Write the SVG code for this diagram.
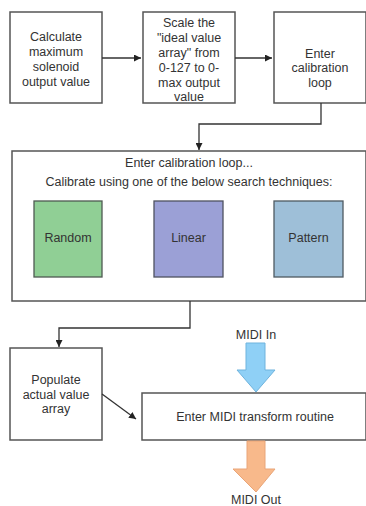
<svg xmlns="http://www.w3.org/2000/svg" width="366" height="506" viewBox="0 0 366 506">
<defs>
<marker id="ah" viewBox="0 0 10 10" refX="10" refY="5" markerWidth="7" markerHeight="7" markerUnits="userSpaceOnUse" orient="auto">
<path d="M0,0 L10,5 L0,10 z" fill="#222"/>
</marker>
<style>
.box{fill:#fff;stroke:#555;stroke-width:1.5}
.t{font-family:"Liberation Sans",Arial,sans-serif;font-size:12.5px;fill:#333;text-anchor:middle}
.c{fill:none;stroke:#333;stroke-width:1.3}
</style>
</defs>
<rect width="366" height="506" fill="#fff"/>
<g id="n1"><rect class="box" x="10" y="12" width="92" height="91"/>
<text class="t" x="56" y="40.5">Calculate</text><text class="t" x="56" y="55.5">maximum</text><text class="t" x="56" y="70.5">solenoid</text><text class="t" x="56" y="85.5">output value</text></g>
<g id="n2"><rect class="box" x="143" y="12" width="92" height="91"/>
<text class="t" x="189" y="26.5">Scale the</text><text class="t" x="189" y="41.5">"ideal value</text><text class="t" x="189" y="56.5">array" from</text><text class="t" x="189" y="71.5">0-127 to 0-</text><text class="t" x="189" y="86.5">max output</text><text class="t" x="189" y="101">value</text></g>
<g id="n3"><rect class="box" x="274" y="12" width="92" height="91"/>
<text class="t" x="320" y="57.5">Enter</text><text class="t" x="320" y="72">calibration</text><text class="t" x="320" y="86.5">loop</text></g>
<g id="n4"><rect class="box" x="12" y="151" width="354" height="150"/>
<text class="t" x="189" y="167">Enter calibration loop...</text><text class="t" x="189" y="186">Calibrate using one of the below search techniques:</text></g>
<g id="n5"><rect x="34" y="201" width="68" height="76" fill="#90cf95" stroke="#4f5a52" stroke-width="1.3"/><text class="t" x="68" y="242">Random</text></g>
<g id="n6"><rect x="154" y="201" width="69" height="76" fill="#9ba0d6" stroke="#4f5260" stroke-width="1.3"/><text class="t" x="188.5" y="242">Linear</text></g>
<g id="n7"><rect x="274" y="201" width="69" height="76" fill="#9ebfd8" stroke="#4f5a62" stroke-width="1.3"/><text class="t" x="308.5" y="242">Pattern</text></g>
<g id="n8"><rect class="box" x="10" y="348" width="92" height="92"/>
<text class="t" x="56" y="384">Populate</text><text class="t" x="56" y="398.5">actual value</text><text class="t" x="56" y="413">array</text></g>
<g id="n9"><rect class="box" x="142" y="393" width="224" height="47"/>
<text class="t" x="255" y="421">Enter MIDI transform routine</text></g>
<g id="midiIn"><text class="t" x="256" y="339">MIDI In</text>
<path d="M246,343 H265 V370 H275 L256,392 L237,370 H246 Z" fill="#8fd0f6" stroke="#6fb3dd" stroke-width="1"/></g>
<g id="midiOut"><path d="M247,441 H265 V469 H275 L256,492 L233,469 H247 Z" fill="#f8b98b" stroke="#e9a578" stroke-width="1"/>
<text class="t" x="256" y="504">MIDI Out</text></g>
<g id="connectors">
<line class="c" x1="102" y1="58" x2="141" y2="58" marker-end="url(#ah)"/>
<line class="c" x1="235" y1="58" x2="272" y2="58" marker-end="url(#ah)"/>
<polyline class="c" points="321,103 321,124 199,124 199,150" marker-end="url(#ah)"/>
<polyline class="c" points="190,301 190,328 59,328 59,347" marker-end="url(#ah)"/>
<line class="c" x1="102" y1="394" x2="136" y2="419" marker-end="url(#ah)"/>
</g>
</svg>
